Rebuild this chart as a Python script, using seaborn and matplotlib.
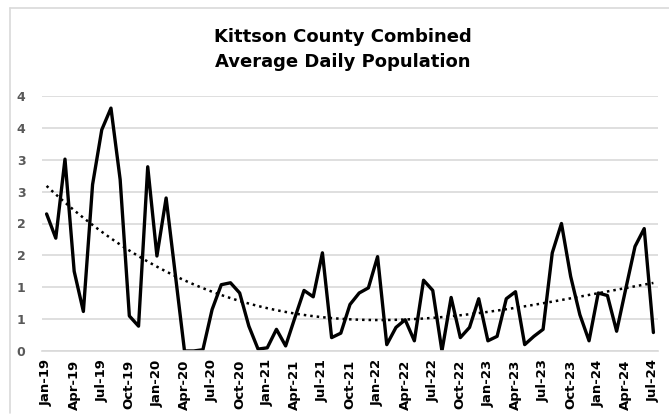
import numpy as np
import pandas as pd
import matplotlib
matplotlib.use("Agg")
import matplotlib.pyplot as plt
import seaborn as sns
from matplotlib.lines import Line2D

# monthly values Jan-19 .. Jul-24
adp = [2.15, 1.77, 3.01, 1.25, 0.62, 2.61, 3.47, 3.81, 2.69, 0.55, 0.39, 2.89,
       1.49, 2.40, 1.20, 0.00, 0.00, 0.02, 0.65, 1.04, 1.07, 0.91, 0.39, 0.03,
       0.05, 0.34, 0.08, 0.52, 0.95, 0.85, 1.54, 0.21, 0.28, 0.73, 0.91, 0.99,
       1.48, 0.10, 0.37, 0.49, 0.16, 1.11, 0.95, 0.00, 0.84, 0.21, 0.37, 0.82,
       0.16, 0.23, 0.82, 0.93, 0.10, 0.23, 0.34, 1.54, 2.00, 1.17, 0.57, 0.16,
       0.91, 0.87, 0.31, 0.98, 1.64, 1.92, 0.29]
month_labels = ["Jan-19", "Apr-19", "Jul-19", "Oct-19", "Jan-20", "Apr-20", "Jul-20",
                "Oct-20", "Jan-21", "Apr-21", "Jul-21", "Oct-21", "Jan-22", "Apr-22",
                "Jul-22", "Oct-22", "Jan-23", "Apr-23", "Jul-23", "Oct-23", "Jan-24",
                "Apr-24", "Jul-24"]
y_ticks = [0, 0.5, 1, 1.5, 2, 2.5, 3, 3.5, 4]
y_labels = ["0", "1", "1", "2", "2", "3", "3", "4", "4"]

df = pd.DataFrame({"month": np.arange(len(adp)), "adp": adp})

sns.set_style("white")
plt.rcParams["font.family"] = ["DejaVu Sans"]

fig = plt.figure(figsize=(6.69, 4.16), dpi=100)
ax = fig.add_axes([42 / 669, 65 / 416, 616 / 669, 255 / 416])

# chart area border (only top and left edges are inside the image)
border = "#d9d9d9"
fig.lines.append(Line2D([10 / 669, 10 / 669], [0.008, 408.5 / 416],
                        transform=fig.transFigure, color=border, linewidth=1.2))
fig.lines.append(Line2D([10 / 669, 1.0], [408.5 / 416, 408.5 / 416],
                        transform=fig.transFigure, color=border, linewidth=1.2))

# polynomial trendline
sns.regplot(data=df, x="month", y="adp", order=3, scatter=False, ci=None,
            truncate=True, ax=ax,
            line_kws={"color": "black", "linestyle": (0, (1, 1.6)), "linewidth": 1.8})
sns.lineplot(data=df, x="month", y="adp", color="black", linewidth=2.4, ax=ax)

ax.set_xlim(-0.5, len(adp) - 0.5)
ax.set_ylim(0, 4)
ax.set_yticks(y_ticks)
ax.set_yticklabels(y_labels, color="#595959", fontsize=9, fontweight="bold")
ax.set_xticks(np.arange(0, len(adp), 3))
ax.set_xticklabels(month_labels, rotation=90, fontsize=9.5, fontweight="bold",
                   color="black")
ax.set_xticks(np.arange(0, len(adp), 3) - 0.5, minor=True)
ax.tick_params(axis="x", which="major", length=0, pad=6)
ax.tick_params(axis="x", which="minor", length=4, color=border, width=1)
ax.tick_params(axis="y", length=0, pad=12)
ax.grid(axis="y", color=border, linewidth=1.2)
ax.set_axisbelow(True)
for s in ["top", "right", "left"]:
    ax.spines[s].set_visible(False)
ax.spines["bottom"].set_color(border)
ax.spines["bottom"].set_linewidth(1.2)
ax.set_xlabel("")
ax.set_ylabel("")

fig.text(0.513, 1 - 49.5 / 416, "Kittson County Combined\nAverage Daily Population",
         ha="center", va="center", fontsize=13, fontweight="bold",
         linespacing=1.45, color="black")

fig.savefig("out.png", dpi=100)
